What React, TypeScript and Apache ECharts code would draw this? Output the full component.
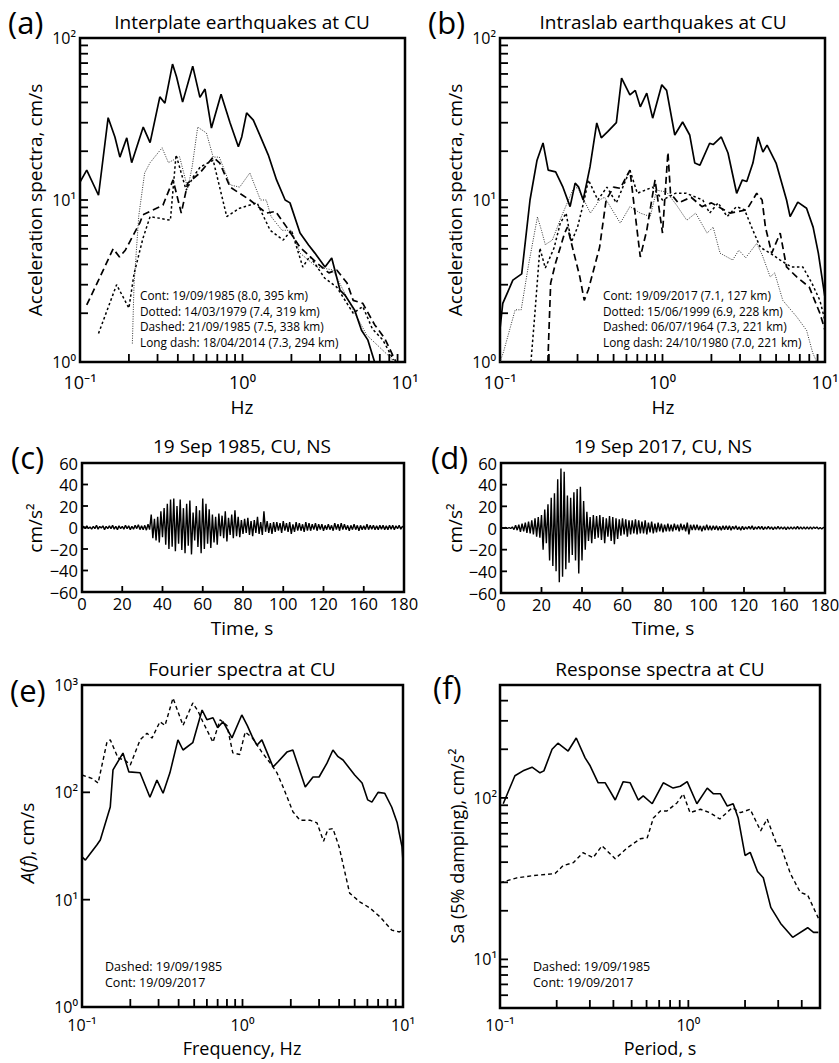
import React, { useEffect, useRef } from 'react';
import * as echarts from 'echarts';

const FONT = '"Open Sans", "Noto Sans", sans-serif';

// ---------- Panel (a): interplate earthquakes, [Hz, cm/s] ----------
const A_CONT = [[0.1,12.9],[0.11,15.3],[0.13,10.7],[0.149,32.2],[0.164,24.5],[0.176,18.4],[0.194,24.2],[0.208,17.0],[0.245,28.2],[0.27,22.6],[0.31,43.3],[0.333,39.6],[0.371,69],[0.393,57.5],[0.428,40.2],[0.494,67],[0.547,43],[0.588,48.4],[0.644,27.8],[0.738,45],[0.838,30],[0.943,21.3],[0.99,24.6],[1.06,34.5],[1.166,31.1],[1.29,24.6],[1.44,19.0],[1.62,13.3],[1.83,10.0],[1.96,9.6],[2.26,6.25],[2.55,5.27],[2.79,4.7],[3.22,3.86],[3.54,4.38],[3.98,2.78],[4.27,2.59],[4.9,2.09],[5.4,1.57],[5.9,1.37],[6.5,1.0]];
const A_DOT = [[0.21,1.3],[0.215,3],[0.23,8],[0.25,14.7],[0.27,17],[0.32,21],[0.35,17],[0.41,18.5],[0.46,11.8],[0.49,16],[0.53,28.2],[0.6,25.9],[0.66,18.4],[0.72,18.4],[0.84,12.4],[0.96,12],[1.11,14.7],[1.29,10],[1.4,10],[1.5,7.9],[1.75,6.5],[2.0,6.5],[2.26,4.7],[2.86,3.86],[3.6,3.7],[4.8,2.1],[5.8,1.47],[8.1,1.07],[8.6,1.0]];
const A_DASH = [[0.13,1.5],[0.168,3.0],[0.2,2.15],[0.215,3.5],[0.244,5.8],[0.27,7.9],[0.36,7.5],[0.39,19],[0.45,11.5],[0.5,14],[0.55,16],[0.66,17.6],[0.8,7.9],[0.96,8.9],[1.23,9.6],[1.48,6.5],[1.78,5.66],[2.0,6.5],[2.35,3.86],[2.6,4.5],[3.2,3.3],[3.8,2.9],[4.8,2.0],[5.5,2.2],[6.3,1.6],[7.3,1.37],[8.5,1.03]];
const A_LDASH = [[0.11,2.25],[0.13,3.2],[0.16,5.0],[0.175,4.45],[0.19,4.9],[0.233,7.2],[0.244,8.1],[0.324,9.3],[0.374,13.3],[0.42,8.3],[0.46,12.7],[0.547,14.7],[0.66,18.4],[0.725,16.9],[0.84,12],[0.96,11],[1.11,10],[1.4,8.3],[1.6,8.5],[1.87,6.8],[2.26,5.1],[2.86,4.1],[3.4,3.55],[3.8,3.7],[4.4,3.07],[4.8,2.4],[5.5,2.3],[6.5,1.7],[7.5,1.4],[8.8,1.0]];
const A_LEGEND = ['Cont: 19/09/1985 (8.0, 395 km)','Dotted: 14/03/1979 (7.4, 319 km)','Dashed: 21/09/1985 (7.5, 338 km)','Long dash: 18/04/2014 (7.3, 294 km)'];

// ---------- Panel (b): intraslab earthquakes ----------
const B_CONT = [[0.1,1.6],[0.104,2.3],[0.12,3.2],[0.136,3.5],[0.153,10],[0.169,17.6],[0.184,22.5],[0.198,15.3],[0.22,14.9],[0.244,12],[0.27,9.1],[0.29,12.7],[0.305,12],[0.325,10],[0.358,16],[0.394,29.9],[0.42,24.2],[0.46,26.4],[0.52,30],[0.56,56.6],[0.63,44.5],[0.68,47.5],[0.73,37.6],[0.8,45.7],[0.87,32],[0.99,51.4],[1.06,47.5],[1.19,25.2],[1.33,30.3],[1.47,25.2],[1.58,16.9],[1.7,16.4],[1.95,22.4],[2.05,22],[2.3,24.5],[2.53,19.5],[2.86,11],[3.1,13.3],[3.3,13],[3.6,16.9],[3.87,24.5],[4.15,19.8],[4.4,21.8],[5.0,16.9],[5.8,10],[6.1,7.9],[6.8,9.7],[7.7,8.9],[8.45,6.8],[9.1,4.7],[10,2.5]];
const B_DOT = [[0.1,1.0],[0.105,1.15],[0.124,2.1],[0.135,2.1],[0.15,4],[0.17,7.85],[0.18,6.5],[0.19,5.3],[0.21,5.66],[0.24,8],[0.28,11.5],[0.3,12],[0.36,8.3],[0.41,10],[0.44,10.4],[0.55,7.2],[0.63,9.1],[0.73,8.3],[0.84,7.9],[0.92,11.5],[1.06,11.2],[1.22,9.3],[1.41,7.5],[1.6,8.3],[1.88,6.25],[2.05,6.8],[2.26,4.7],[2.7,4.26],[2.95,4.9],[3.25,4.4],[3.8,5.4],[4.1,4.6],[4.6,3.35],[4.9,3.55],[5.5,2.4],[6.7,1.9],[7.7,1.57],[8.4,1.14],[8.9,1.0]];
const B_DASH = [[0.155,1.0],[0.164,2.0],[0.176,5.05],[0.19,3.8],[0.215,5.05],[0.235,7.2],[0.255,8.3],[0.275,5.5],[0.3,6.8],[0.33,10],[0.35,13.3],[0.4,10],[0.455,12],[0.52,9.6],[0.63,15.3],[0.7,11],[0.87,12],[1.0,10],[1.2,11],[1.4,11],[1.77,10],[1.95,8.3],[2.2,9.6],[2.5,7.9],[2.85,9.1],[3.2,8.7],[3.6,6.5],[4.0,5.1],[4.6,4.7],[5.3,4.26],[6.2,3.86],[7.3,3.86],[8.3,3.07],[9.3,2.4],[10,1.8]];
const B_LDASH = [[0.197,1.0],[0.205,3.07],[0.22,4.1],[0.25,6.25],[0.26,6.8],[0.31,3.35],[0.33,2.4],[0.35,2.8],[0.41,5.1],[0.45,10],[0.5,12],[0.55,11.8],[0.63,15.3],[0.73,4.45],[0.8,6.5],[0.9,13.3],[1.0,6.25],[1.08,19.7],[1.12,11],[1.25,9.6],[1.5,10.4],[1.75,9.1],[2.0,9.6],[2.6,8.3],[3.3,8.7],[3.8,11],[4.1,10],[4.3,6.8],[4.7,4.7],[5.3,6.25],[5.8,3.86],[6.7,3.35],[8.0,2.9],[9.3,2.0],[10,1.57]];
const B_LEGEND = ['Cont: 19/09/2017 (7.1, 127 km)','Dotted: 15/06/1999 (6.9, 228 km)','Dashed: 06/07/1964 (7.3, 221 km)','Long dash: 24/10/1980 (7.0, 221 km)'];

// ---------- Panels (c), (d): accelerograms, cm/s², sampled every DT on the time axis ----------
const DT = 0.8;
const TIME_TICKS = [0, 20, 40, 60, 80, 100, 120, 140, 160];
const TIME_LABELS = ['0','20','40','60','80','100','120','160','180'];
const ACC_TICKS = [-60, -40, -20, 0, 20, 40, 60];
const C_ACC = [
  0,1,-1,1.5,-1,0.5,-1.5,1,-1,2,
  -1.5,1,-0.5,1.5,-2,1,-1,1.5,-1,2,
  -1.5,1,-2,1.5,-1,1,-1.5,2,-1,1.5,
  -2,1,-1.5,2,-1,2.5,-2,1.5,-2,2,
  -2.5,3,-2,12,-10,8,-12,10,-14,15,
  -9,18,-16,22,-20,26,-18,27,-22,20,
  -15,26,-21,18,-24,22,-17,25,-25,14,
  -12,20,-18,16,-24,27,-20,22,-15,17,
  -19,12,-14,10,-16,13,-8,11,-10,15,
  -13,9,-7,12,-10,16,-8,10,-9,7,
  -6,8,-5,9,-7,6,-8,7,-5,10,
  -6,5,-7,15,-4,6,-5,4,-6,5,
  -4,5,-3,4,-5,6,-3,4,-4,5,
  -6,3,-4,5,-3,4,-3,3,-4,5,
  -3,4,-3,3,-2,4,-3,3,-2,3,
  -3,2,-2,3,-2,2,-3,4,-2,3,
  -3,4,-2,3,-2,2,-3,2,-2,3,
  -2,2,-3,2,-2,1.5,-2,3,-2,2,
  -1.5,2,-2,1.5,-2,2,-1.5,2,-2,1.5,
  -2,2,-1.5,2,-2,1.5,-1,2,-1.5,1,0
];
const D_ACC = [
  0,0.3,-0.3,0.5,-0.5,0.5,-0.5,1,-1.5,2.5,
  -2,3,-3.5,4,-3,5,-4.5,6,-5,7,
  -6,9,-8,10,-9,12,-20,17,-14,22,
  -30,28,-35,32,-40,45,-50,55,-45,52,
  -38,30,-32,28,-25,33,-30,36,-42,38,
  -30,25,-20,15,-12,10,-14,12,-10,11,
  -9,12,-11,10,-14,9,-8,11,-12,10,
  -15,9,-10,8,-7,9,-6,8,-8,7,
  -6,7,-5,8,-6,7,-5,6,-5,7,
  -6,5,-4,6,-5,4,-4,5,-3,4,
  -4,3,-3,4,-3,3,-3,4,-2,3,
  -3,4,-2,3,-3,5,-6,3,-2,3,
  -2,3,-2,2,-3,2,-2,3,-2,2,
  -2,2,-1.5,2,-2,1.5,-2,2,-1.5,2,
  -1.5,2,-2,1.5,-1,2,-1.5,1,-2,1.5,
  -1.5,1,-1,1.5,-1,2,-1.5,1,-1,1.5,
  -1,1.5,-1.5,1,-1,1.5,-1,1,-1.5,1,
  -1,1.5,-1,1,-1,1,-1.5,1,-1,1,
  -1,1,-1,1.5,-1,1,-1,1,-1,1,
  -1,1,-1,1,-0.5,1,-1,0.5,-1,0.5,0
];

// ---------- Panel (e): Fourier spectra [Hz, cm/s] ----------
const E_CONT = [[0.1,25],[0.105,23.4],[0.124,32.5],[0.13,36],[0.15,73],[0.156,162],[0.18,232],[0.196,155],[0.23,152],[0.265,90],[0.293,130],[0.32,98],[0.353,152],[0.396,308],[0.426,248],[0.49,290],[0.56,585],[0.6,475],[0.655,495],[0.7,400],[0.756,455],[0.86,322],[0.99,526],[1.07,420],[1.15,330],[1.23,275],[1.32,308],[1.42,237],[1.55,172],[1.66,192],[1.89,237],[2.06,248],[2.46,112],[2.75,139],[3.0,139],[3.36,187],[3.66,248],[3.94,215],[4.23,200],[5.0,145],[5.56,122],[6.03,85],[6.4,81],[6.99,100],[7.7,98],[8.5,73],[9.2,52],[9.86,31],[10,23]];
const E_DASH = [[0.1,145],[0.115,135],[0.126,122],[0.143,293],[0.15,308],[0.168,208],[0.185,200],[0.2,180],[0.23,308],[0.254,355],[0.273,320],[0.306,455],[0.329,420],[0.369,755],[0.426,420],[0.49,680],[0.53,565],[0.566,455],[0.655,293],[0.725,475],[0.8,420],[0.87,233],[0.96,225],[1.04,365],[1.15,322],[1.32,237],[1.49,187],[1.64,152],[1.79,112],[2.06,66],[2.28,55],[2.63,55],[2.91,52],[3.2,35],[3.4,45],[3.66,46],[4.0,31],[4.65,11.5],[5.4,9.5],[6.2,8.4],[7.2,6.9],[8.5,5.2],[9.5,5.0],[10,5.2]];
const EF_LEGEND = ['Dashed: 19/09/1985','Cont: 19/09/2017'];

// ---------- Panel (f): response spectra [s, cm/s²] ----------
const F_CONT = [[0.104,92],[0.12,137],[0.1326,147],[0.148,155],[0.163,143],[0.171,147],[0.189,200],[0.203,218],[0.23,195],[0.254,235],[0.283,177],[0.301,158],[0.332,124],[0.362,124],[0.409,97],[0.451,126],[0.491,124],[0.542,97],[0.576,103],[0.643,92],[0.736,124],[0.83,115],[0.906,118],[0.986,126],[1.11,92],[1.26,115],[1.36,106],[1.48,106],[1.61,89],[1.73,92],[1.84,75],[2.0,44],[2.13,46],[2.33,35],[2.5,32],[2.74,21],[3.09,16.7],[3.58,13.7],[4.3,15.7],[4.62,14.7],[4.9,14.7]];
const F_DASH = [[0.1,29.8],[0.123,32],[0.15,33],[0.196,34],[0.216,38],[0.245,39.7],[0.276,45.8],[0.312,42.6],[0.348,50.5],[0.409,42],[0.473,49],[0.555,55.8],[0.605,56.6],[0.652,75],[0.71,83],[0.77,83],[0.87,93],[0.94,106],[1.02,81],[1.16,85],[1.3,81],[1.47,74],[1.71,87],[1.89,81],[2.13,85],[2.42,62.5],[2.62,74],[2.97,50.5],[3.09,50.5],[3.48,34],[3.93,26],[4.3,25],[4.9,18]];

// ---------- tick values ----------
const HZ_LABELS = [0.1, 1, 10];
const HZ_TICKS = [0.2,0.3,0.4,0.5,0.6,0.7,0.8,0.9,1,2,3,4,5,6,7,8,9];
const AB_Y_LABELS = [1, 10, 100];
const AB_Y_TICKS = [2,3,4,5,6,7,8,9,10,20,30,40,50,60,70,80,90];
const E_Y_LABELS = [1, 10, 100, 1000];
const E_Y_TICKS = [10, 100];
const F_X_LABELS = [0.1, 1];
const F_X_TICKS = [0.2,0.3,0.4,0.5,0.6,0.7,0.8,0.9,1,2,3,4];
const F_Y_LABELS = [10, 100];
const F_Y_TICKS = [6,7,8,9,10,20,30,40,50,60,70,80,90,100,200,300,400];

const SUP: Record<string, string> = { '-': '⁻', '0': '⁰', '1': '¹', '2': '²', '3': '³' };
const supFmt = (v: number) => {
  const e = Math.round(Math.log10(v));
  return '10' + String(e).split('').map((c) => SUP[c]).join('');
};

const GRIDS = [
  { left: 80, top: 38, width: 325, height: 324 },
  { left: 500, top: 38, width: 325, height: 324 },
  { left: 82, top: 463, width: 322, height: 129 },
  { left: 501, top: 463, width: 324, height: 130 },
  { left: 82, top: 685, width: 321, height: 322 },
  { left: 500, top: 685, width: 320, height: 323 },
];
// per grid: x tick values, y tick values, x min, y min, tick length
const TICKS: { xt: number[]; yt: number[]; x0: number; y0: number; len: number }[] = [
  { xt: HZ_TICKS, yt: AB_Y_TICKS, x0: 0.1, y0: 1, len: 8 },
  { xt: HZ_TICKS, yt: AB_Y_TICKS, x0: 0.1, y0: 1, len: 8 },
  { xt: TIME_TICKS, yt: ACC_TICKS, x0: 0, y0: -60, len: 6 },
  { xt: TIME_TICKS, yt: ACC_TICKS, x0: 0, y0: -60, len: 6 },
  { xt: HZ_TICKS, yt: E_Y_TICKS, x0: 0.1, y0: 1, len: 8 },
  { xt: F_X_TICKS, yt: F_Y_TICKS, x0: 0.1, y0: 5, len: 8 },
];

const AXIS_LINE = { show: false, onZero: false };

function logAxis(gi: number, min: number, max: number, labels: number[], fs: number, margin: number, lh?: number) {
  return {
    type: 'log', logBase: 10, gridIndex: gi, min, max,
    axisLine: AXIS_LINE,
    axisTick: { show: false },
    axisLabel: { show: true, customValues: labels, formatter: supFmt, color: '#000', fontSize: fs, fontFamily: FONT, margin, ...(lh ? { lineHeight: lh } : {}) },
    splitLine: { show: false },
    minorTick: { show: false },
    minorSplitLine: { show: false },
  };
}

function timeX(gi: number) {
  return {
    type: 'value', gridIndex: gi, min: 0, max: 160, interval: 20,
    axisLine: AXIS_LINE,
    axisTick: { show: false },
    axisLabel: { color: '#000', fontSize: 16.5, fontFamily: FONT, margin: 3, lineHeight: 16, formatter: (v: number) => TIME_LABELS[Math.round(v / 20)] ?? '' },
    splitLine: { show: false },
  };
}
function accY(gi: number) {
  return {
    type: 'value', gridIndex: gi, min: -60, max: 60, interval: 20,
    axisLine: AXIS_LINE,
    axisTick: { show: false },
    axisLabel: { color: '#000', fontSize: 16.5, fontFamily: FONT, margin: 4, lineHeight: 15, formatter: (v: number) => (v < 0 ? '−' + Math.abs(v) : String(v)) },
    splitLine: { show: false },
  };
}

const SOLID = { color: '#000', width: 1.7, type: 'solid' };
const DOTTED = { color: '#333', width: 1, type: [1, 1.4] };
const SHORTDASH = { color: '#000', width: 1.5, type: [2.5, 2.5] };
const LONGDASH = { color: '#000', width: 1.7, type: [7, 4] };
const EF_SOLID = { color: '#000', width: 1.6, type: 'solid' };
const EF_DASH = { color: '#000', width: 1.4, type: [4, 3] };
const ACC_STYLE = { color: '#000', width: 1.4 };

function line(name: string, idx: number, data: any[], lineStyle: any) {
  return { name, type: 'line', xAxisIndex: idx, yAxisIndex: idx, data, showSymbol: false, symbol: 'none', lineStyle, silent: true, clip: true };
}

// inward tick marks: thin rect symbols placed through the axes' own scales
function tickSeries(gi: number, data: number[][], dir: 'x' | 'y', len: number) {
  return {
    type: 'scatter', xAxisIndex: gi, yAxisIndex: gi, silent: true, clip: false, z: 6,
    data,
    symbol: 'rect',
    symbolSize: dir === 'x' ? [1.8, len] : [len, 1.8],
    symbolOffset: dir === 'x' ? [0, -len / 2] : [len / 2, 0],
    itemStyle: { color: '#000', opacity: 1 },
    emphasis: { disabled: true },
    animation: false,
  };
}

const t = (text: string, x: number, y: number, fontSize: number, align = 'center') => ({
  type: 'text', x, y, silent: true,
  style: { text, fontSize, fontFamily: FONT, fill: '#000', align, verticalAlign: 'middle', textAlign: align, textVerticalAlign: 'middle' },
});
const vt = (text: string, x: number, y: number, fontSize: number, extraStyle: any = {}) => ({
  type: 'text', x, y, rotation: Math.PI / 2, silent: true,
  style: { text, fontSize, fontFamily: FONT, fill: '#000', align: 'center', verticalAlign: 'middle', textAlign: 'center', textVerticalAlign: 'middle', ...extraStyle },
});

function buildTexts() {
  const g: any[] = [];
  [['(a)', 8, 22], ['(b)', 428, 22], ['(c)', 11, 457], ['(d)', 431, 457], ['(e)', 10, 690], ['(f)', 433, 687]].forEach(([s, x, y]) =>
    g.push(t(s as string, x as number, y as number, 31, 'left')));
  g.push(t('Interplate earthquakes at CU', 242, 22, 19));
  g.push(t('Intraslab earthquakes at CU', 663, 22, 19));
  g.push(t('19 Sep 1985, CU, NS', 242, 446, 19));
  g.push(t('19 Sep 2017, CU, NS', 663, 446, 19));
  g.push(t('Fourier spectra at CU', 242, 669, 19));
  g.push(t('Response spectra at CU', 660, 669, 19));
  g.push(t('Hz', 242, 407, 19));
  g.push(t('Hz', 663, 407, 19));
  g.push(t('Time, s', 242, 628, 19));
  g.push(t('Time, s', 663, 628, 19));
  g.push(t('Frequency, Hz', 242, 1048, 18));
  g.push(t('Period, s', 660, 1048, 18));
  g.push(vt('Acceleration spectra, cm/s', 35, 200, 19));
  g.push(vt('Acceleration spectra, cm/s', 455, 200, 19));
  g.push(vt('cm/s²', 35, 528, 19));
  g.push(vt('cm/s²', 455, 528, 19));
  g.push(vt('{i|A}({i|f}), cm/s', 27, 843, 19, { rich: { i: { fontStyle: 'italic', fontSize: 19, fontFamily: FONT, fill: '#000' } } }));
  g.push(vt('Sa (5% damping), cm/s²', 457, 846, 18));
  A_LEGEND.forEach((s, i) => g.push(t(s, 140, 295 + i * 15.7, 11.8, 'left')));
  B_LEGEND.forEach((s, i) => g.push(t(s, 603, 295 + i * 15.7, 11.8, 'left')));
  EF_LEGEND.forEach((s, i) => g.push(t(s, 105, 966 + i * 16.5, 12.5, 'left')));
  EF_LEGEND.forEach((s, i) => g.push(t(s, 533, 966 + i * 16.5, 12.5, 'left')));
  return g;
}

function buildOption() {
  const toTime = (arr: number[]) => arr.map((v, i) => [i * DT, v]);
  const tickSer: any[] = [];
  TICKS.forEach(({ xt, yt, x0, y0, len }, gi) => {
    tickSer.push(tickSeries(gi, xt.map((v) => [v, y0]), 'x', len));
    tickSer.push(tickSeries(gi, yt.map((v) => [x0, v]), 'y', len));
  });
  return {
    animation: false,
    backgroundColor: '#fff',
    textStyle: { fontFamily: FONT },
    grid: GRIDS.map((g) => ({ ...g, show: true, borderColor: '#000', borderWidth: 2.5, backgroundColor: 'transparent', containLabel: false, outerBoundsMode: 'none' })),
    xAxis: [
      logAxis(0, 0.1, 10, HZ_LABELS, 18, 11),
      logAxis(1, 0.1, 10, HZ_LABELS, 18, 11),
      timeX(2),
      timeX(3),
      logAxis(4, 0.1, 10, HZ_LABELS, 16, 10),
      logAxis(5, 0.1, 5, F_X_LABELS, 16, 9),
    ],
    yAxis: [
      logAxis(0, 1, 100, AB_Y_LABELS, 16, 4, 11),
      logAxis(1, 1, 100, AB_Y_LABELS, 16, 4, 11),
      accY(2),
      accY(3),
      logAxis(4, 1, 1000, E_Y_LABELS, 16, 4, 10),
      logAxis(5, 5, 500, F_Y_LABELS, 16, 3, 11),
    ],
    series: [
      line('a-dot', 0, A_DOT, DOTTED),
      line('a-dash', 0, A_DASH, SHORTDASH),
      line('a-ldash', 0, A_LDASH, LONGDASH),
      line('a-cont', 0, A_CONT, SOLID),
      line('b-dot', 1, B_DOT, DOTTED),
      line('b-dash', 1, B_DASH, SHORTDASH),
      line('b-ldash', 1, B_LDASH, LONGDASH),
      line('b-cont', 1, B_CONT, SOLID),
      line('c', 2, toTime(C_ACC), ACC_STYLE),
      line('d', 3, toTime(D_ACC), ACC_STYLE),
      line('e-dash', 4, E_DASH, EF_DASH),
      line('e-cont', 4, E_CONT, EF_SOLID),
      line('f-dash', 5, F_DASH, EF_DASH),
      line('f-cont', 5, F_CONT, EF_SOLID),
      ...tickSer,
    ],
    graphic: buildTexts(),
  };
}

export default function App() {
  const ref = useRef<HTMLDivElement>(null);
  useEffect(() => {
    if (!ref.current) return;
    const chart = echarts.init(ref.current, null, { renderer: 'svg' });
    chart.setOption(buildOption() as any);
    return () => chart.dispose();
  }, []);
  return <div ref={ref} style={{ position: 'fixed', left: 0, top: 0, width: 839, height: 1063, background: '#fff' }} />;
}
